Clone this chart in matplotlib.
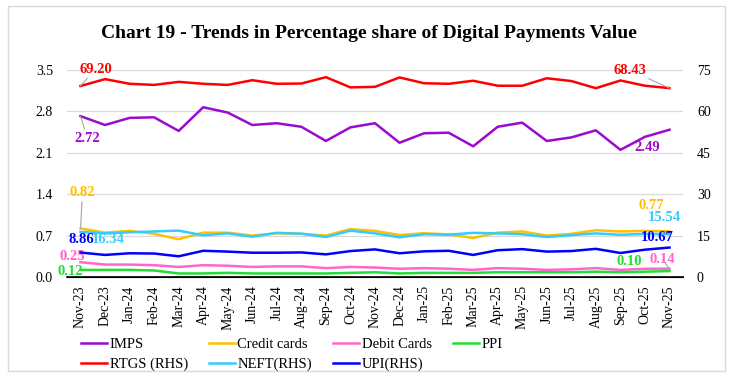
import matplotlib
matplotlib.use("Agg")
import matplotlib.pyplot as plt
from matplotlib.patches import Rectangle

months = ["Nov-23", "Dec-23", "Jan-24", "Feb-24", "Mar-24", "Apr-24", "May-24", "Jun-24",
          "Jul-24", "Aug-24", "Sep-24", "Oct-24", "Nov-24", "Dec-24", "Jan-25", "Feb-25",
          "Mar-25", "Apr-25", "May-25", "Jun-25", "Jul-25", "Aug-25", "Sep-25", "Oct-25", "Nov-25"]

# left axis (%)
imps = [2.72, 2.57, 2.69, 2.70, 2.47, 2.87, 2.78, 2.57, 2.60, 2.54, 2.30, 2.53, 2.60,
        2.27, 2.43, 2.44, 2.21, 2.54, 2.61, 2.30, 2.36, 2.48, 2.15, 2.37, 2.49]
credit = [0.82, 0.75, 0.78, 0.73, 0.64, 0.75, 0.75, 0.70, 0.74, 0.73, 0.70, 0.81, 0.78,
          0.71, 0.74, 0.72, 0.66, 0.75, 0.77, 0.70, 0.73, 0.79, 0.77, 0.78, 0.77]
debit = [0.25, 0.21, 0.21, 0.20, 0.17, 0.20, 0.19, 0.17, 0.18, 0.18, 0.15, 0.17, 0.16,
         0.14, 0.15, 0.14, 0.12, 0.15, 0.14, 0.12, 0.13, 0.15, 0.12, 0.14, 0.14]
ppi = [0.12, 0.12, 0.12, 0.11, 0.06, 0.06, 0.07, 0.06, 0.06, 0.06, 0.06, 0.07, 0.08,
       0.06, 0.07, 0.07, 0.07, 0.08, 0.08, 0.08, 0.08, 0.09, 0.08, 0.09, 0.10]

# right axis (%)
rtgs = [69.20, 71.7, 70.0, 69.6, 70.7, 70.0, 69.6, 71.3, 70.0, 70.1, 72.4, 68.7, 68.9,
        72.3, 70.2, 70.0, 71.1, 69.3, 69.3, 72.0, 71.0, 68.4, 71.2, 69.3, 68.43]
neft = [16.34, 15.8, 16.2, 16.5, 16.8, 15.1, 15.8, 14.6, 16.0, 15.7, 14.5, 16.8, 15.8,
        14.4, 15.5, 15.3, 16.0, 15.8, 15.5, 14.5, 15.2, 15.8, 15.3, 15.6, 15.54]
upi = [8.86, 8.0, 8.6, 8.5, 7.5, 9.5, 9.2, 8.8, 8.8, 8.9, 8.2, 9.4, 10.0,
       8.6, 9.3, 9.5, 8.0, 9.7, 10.1, 9.2, 9.4, 10.2, 8.7, 9.9, 10.67]

C_IMPS, C_CC, C_DC, C_PPI = "#9B0ACD", "#FFC000", "#FF66CC", "#22DD33"
C_RTGS, C_NEFT, C_UPI = "#FF0000", "#33CCFF", "#0000FF"

plt.rcParams["font.family"] = ["Liberation Serif", "DejaVu Serif"]

fig = plt.figure(figsize=(7.37, 3.77), dpi=100)
ax = fig.add_axes([67 / 737, 1 - 277 / 377, 616 / 737, 207 / 377])
ax2 = ax.twinx()

x = range(len(months))
lw = 1.8
l_imps, = ax.plot(x, imps, color=C_IMPS, lw=lw, label="IMPS")
l_cc, = ax.plot(x, credit, color=C_CC, lw=lw, label="Credit cards")
l_dc, = ax.plot(x, debit, color=C_DC, lw=lw, label="Debit Cards")
l_ppi, = ax.plot(x, ppi, color=C_PPI, lw=lw, label="PPI")
l_rtgs, = ax2.plot(x, rtgs, color=C_RTGS, lw=lw, label="RTGS (RHS)")
l_neft, = ax2.plot(x, neft, color=C_NEFT, lw=lw, label="NEFT(RHS)")
l_upi, = ax2.plot(x, upi, color=C_UPI, lw=lw, label="UPI(RHS)")

ax.set_ylim(0, 3.5)
ax.set_yticks([0, 0.7, 1.4, 2.1, 2.8, 3.5])
ax.set_yticklabels([f"{v:.1f}" for v in [0, 0.7, 1.4, 2.1, 2.8, 3.5]])
ax2.set_ylim(0, 75)
ax2.set_yticks([0, 15, 30, 45, 60, 75])
ax.set_xlim(-0.55, len(months) - 0.45)
ax.set_xticks(list(x))
ax.set_xticklabels(months, rotation=90, fontsize=10)
ax.grid(axis="y", color="#d9d9d9", lw=0.9)
ax.set_axisbelow(True)
for a in (ax, ax2):
    for s in ("top", "left", "right"):
        a.spines[s].set_visible(False)
    a.tick_params(length=0, labelsize=10)
ax.spines["bottom"].set_color("black")
ax.spines["bottom"].set_linewidth(1.2)
ax.tick_params(axis="x", pad=6)
ax.tick_params(axis="y", pad=10)
ax2.tick_params(axis="y", pad=10)

fig.suptitle("Chart 19 - Trends in Percentage share of Digital Payments Value",
             x=0.5, y=0.935, fontsize=14, fontweight="bold")

def lab(a, i, v, text, color, dx, dy, lead=True):
    a.annotate(text, xy=(i, v), xytext=(dx, dy), textcoords="offset pixels",
               ha="center", va="center", color=color, fontsize=10.5, fontweight="bold",
               arrowprops=dict(arrowstyle="-", color="#a6a6a6", lw=0.8,
                               shrinkA=0, shrinkB=0) if lead else None)

n = len(months) - 1
lab(ax2, 0, rtgs[0], "69.20", C_RTGS, 15, 17)
lab(ax, 0, imps[0], "2.72", C_IMPS, 7, -22)
lab(ax, 0, credit[0], "0.82", C_CC, 2, 36)
lab(ax2, 0, upi[0], "8.86", C_UPI, 1, 13, lead=False)
lab(ax2, 0, neft[0], "16.34", C_NEFT, 28, -8, lead=False)
lab(ax, 0, debit[0], "0.25", C_DC, -8, 6, lead=False)
lab(ax, 0, ppi[0], "0.12", C_PPI, -10, -2, lead=False)
lab(ax2, n, rtgs[n], "68.43", C_RTGS, -40, 18)
lab(ax, n, imps[n], "2.49", C_IMPS, -22, -18, lead=False)
lab(ax, n, credit[n], "0.77", C_CC, -18, 26, lead=False)
lab(ax2, n, neft[n], "15.54", C_NEFT, -5, 17, lead=False)
lab(ax2, n, upi[n], "10.67", C_UPI, -12, 10, lead=False)
lab(ax, n, ppi[n], "0.10", C_PPI, -40, 10, lead=False)
lab(ax, n, debit[n], "0.14", C_DC, -7, 9)

handles = [l_imps, l_rtgs, l_cc, l_neft, l_dc, l_upi, l_ppi]
fig.legend(handles, [h.get_label() for h in handles], ncol=4, frameon=False,
           loc="upper left", bbox_to_anchor=(68 / 737, 1 - 325 / 377),
           fontsize=10.5, handlelength=1.8, handletextpad=0.15, columnspacing=1.45,
           labelspacing=0.45)

fig.patches.append(Rectangle((8 / 737, 6 / 377), 717 / 737, 365 / 377,
                             transform=fig.transFigure, fill=False,
                             edgecolor="#d9d9d9", lw=1))

fig.savefig("out.png", dpi=100)
